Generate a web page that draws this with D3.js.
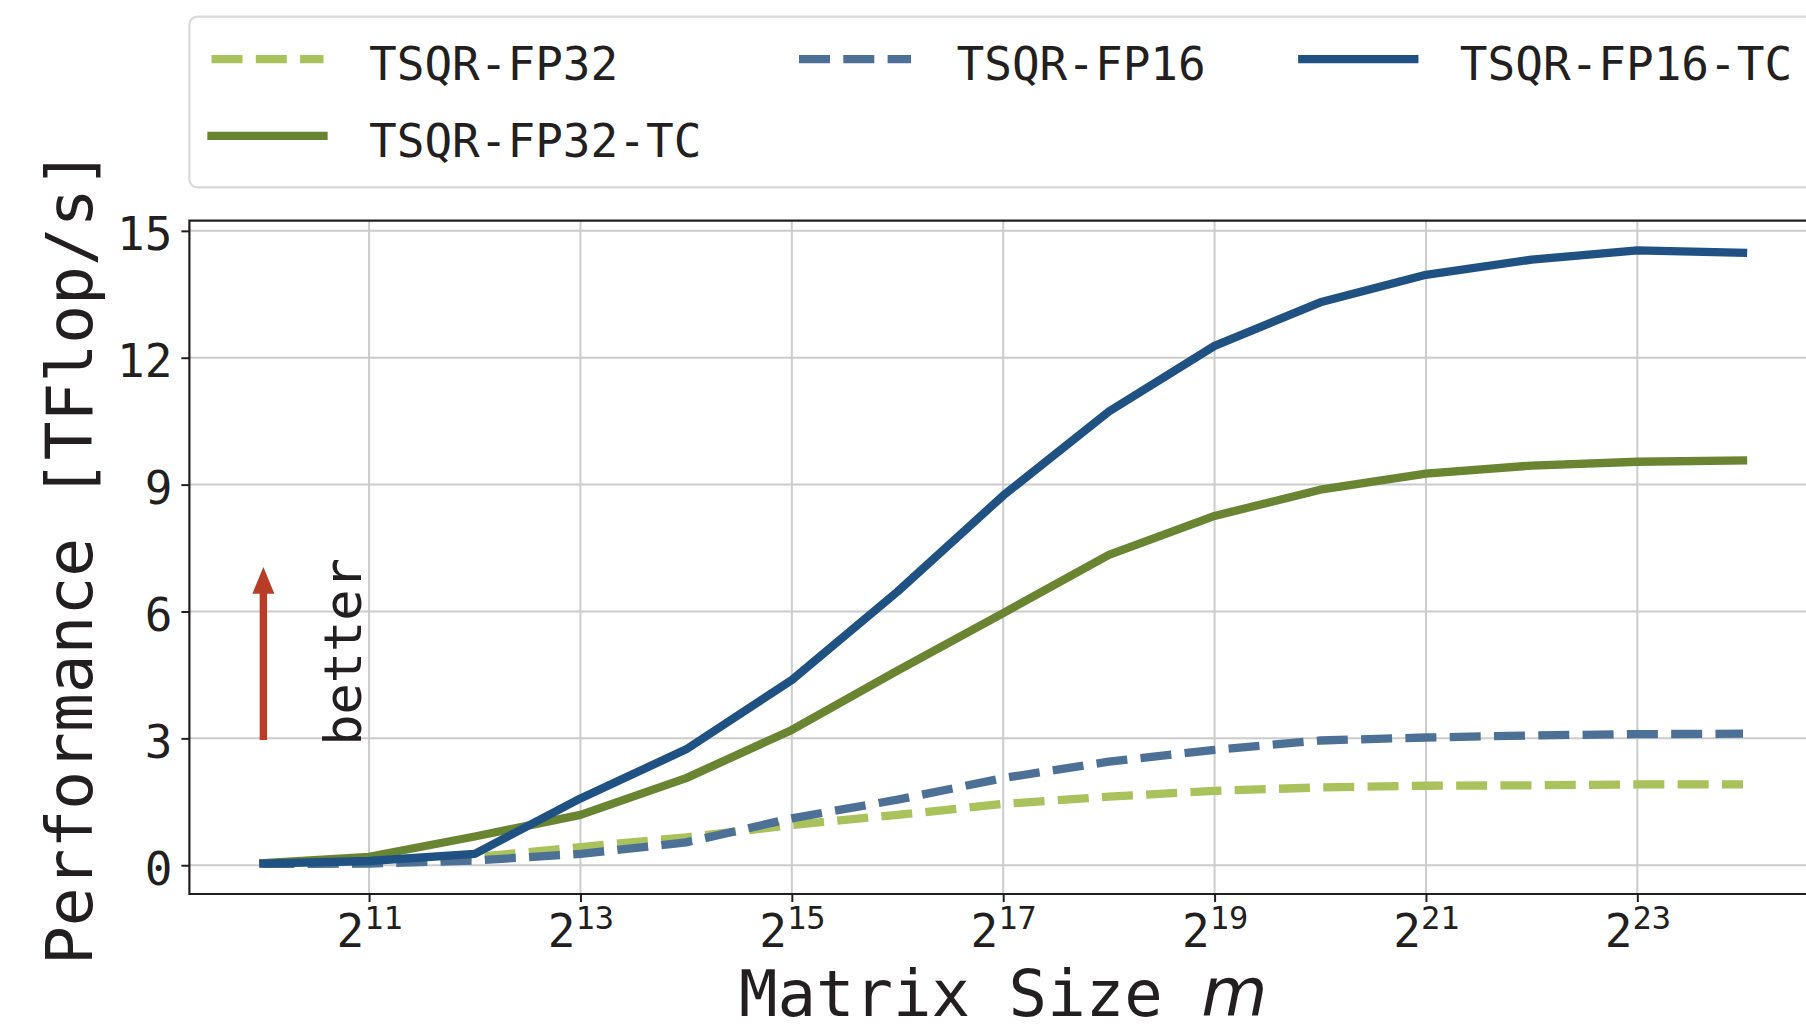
<!DOCTYPE html>
<html>
<head>
<meta charset="utf-8">
<script src="https://cdn.jsdelivr.net/npm/d3@7"></script>
<style>
  html, body { margin: 0; padding: 0; background: #fff; }
  svg { display: block; }
  text { font-family: "DejaVu Sans Mono", monospace; fill: #231f20; }
</style>
</head>
<body>
<div class="chart"></div>
<script>
'use strict'

// matrix size m = 2^e
const exponents = [10, 11, 12, 13, 14, 15, 16, 17, 18, 19, 20, 21, 22, 23, 24]
const tickExponents = [11, 13, 15, 17, 19, 21, 23]
const yTicks = [0, 3, 6, 9, 12, 15]

// TFlop/s
const fp32 = [0.03, 0.05, 0.19, 0.43, 0.66, 0.95, 1.19, 1.45, 1.62, 1.76, 1.84, 1.88, 1.89, 1.91, 1.91]
const fp32tc = [0.05, 0.20, 0.68, 1.19, 2.06, 3.20, 4.60, 5.96, 7.34, 8.26, 8.88, 9.26, 9.45, 9.54, 9.57]
const fp16 = [0.03, 0.04, 0.11, 0.27, 0.54, 1.11, 1.55, 2.06, 2.45, 2.73, 2.95, 3.02, 3.07, 3.10, 3.11]
const fp16tc = [0.04, 0.10, 0.27, 1.58, 2.74, 4.38, 6.47, 8.74, 10.73, 12.28, 13.31, 13.96, 14.32, 14.54, 14.48]

const seriesNames = ['TSQR-FP32', 'TSQR-FP32-TC', 'TSQR-FP16', 'TSQR-FP16-TC']
const seriesValues = [fp32, fp32tc, fp16, fp16tc]
const seriesColors = ['#a9c25b', '#6a8532', '#4c7096', '#1f5282']
const seriesDashed = [true, false, true, false]

// "better" arrow, in TFlop/s
const arrowFrom = 3
const arrowTo = 7.05

const width = 1806
const height = 1033
const ax = { left: 189.4, right: 1817, top: 220.7, bottom: 894 }
const lw = 8.3
const dash = '31,13.3'

const x = d3.scaleLog().base(2)
    .domain([Math.pow(2, 9.3), Math.pow(2, 24.7)])
    .range([ax.left, ax.right])
const y = d3.scaleLinear()
    .domain([-0.68, 15.24])
    .range([ax.bottom, ax.top])

const svg = d3.select('.chart').append('svg')
    .attr('width', width)
    .attr('height', height)

// grid
svg.append('g').selectAll('line')
    .data(yTicks)
  .enter().append('line')
    .attr('x1', ax.left).attr('x2', ax.right)
    .attr('y1', d => y(d)).attr('y2', d => y(d))
    .attr('stroke', '#cccccc').attr('stroke-width', 2)
svg.append('g').selectAll('line')
    .data(tickExponents)
  .enter().append('line')
    .attr('x1', d => x(Math.pow(2, d))).attr('x2', d => x(Math.pow(2, d)))
    .attr('y1', ax.top).attr('y2', ax.bottom)
    .attr('stroke', '#cccccc').attr('stroke-width', 2)

// axes
const yAxis = d3.axisLeft(y).tickValues(yTicks).tickSize(8).tickPadding(9)
const yg = svg.append('g')
    .attr('transform', 'translate(' + ax.left + ',0)')
    .call(yAxis)
yg.select('.domain').remove()
yg.selectAll('.tick line').attr('stroke', '#231f20').attr('stroke-width', 2)
yg.selectAll('.tick text')
    .attr('dy', null)
    .attr('y', 18.8)
    .style('font-size', '46px')
    .style('font-family', '"DejaVu Sans Mono", monospace')
    .attr('fill', '#231f20')

const xAxis = d3.axisBottom(x)
    .tickValues(tickExponents.map(e => Math.pow(2, e)))
    .tickSize(8)
    .tickFormat('')
const xg = svg.append('g')
    .attr('transform', 'translate(0,' + ax.bottom + ')')
    .call(xAxis)
xg.select('.domain').remove()
xg.selectAll('.tick line').attr('stroke', '#231f20').attr('stroke-width', 2)
xg.selectAll('.tick').each(function(d) {
  const t = d3.select(this).append('text')
      .attr('y', 52.7)
      .attr('text-anchor', 'middle')
      .style('font-size', '46px')
      .style('font-family', '"DejaVu Sans Mono", monospace')
      .attr('fill', '#231f20')
  t.append('tspan').text('2')
  t.append('tspan')
      .attr('dy', -17.4)
      .style('font-size', '32px')
      .text(Math.round(Math.log2(d)))
})

// spines
svg.append('path')
    .attr('d', 'M' + ax.right + ',' + ax.top + 'H' + ax.left + 'V' + ax.bottom + 'H' + ax.right)
    .attr('fill', 'none')
    .attr('stroke', '#231f20')
    .attr('stroke-width', 2.2)

// series lines
const line = d3.line()
    .x((d, i) => x(Math.pow(2, exponents[i])))
    .y(d => y(d))

svg.append('g').selectAll('path')
    .data(seriesValues)
  .enter().append('path')
    .attr('d', line)
    .attr('fill', 'none')
    .attr('stroke', (d, i) => seriesColors[i])
    .attr('stroke-width', lw)
    .attr('stroke-linejoin', 'round')
    .attr('stroke-linecap', (d, i) => seriesDashed[i] ? 'butt' : 'square')
    .attr('stroke-dasharray', (d, i) => seriesDashed[i] ? dash : null)

// better arrow
const arrowX = x(Math.pow(2, exponents[0]))
const tipY = y(arrowTo)
const headLen = 26.7
svg.append('path')
    .attr('d', 'M' + (arrowX - 3.7) + ',' + (y(arrowFrom) + 1.7)
        + 'V' + (tipY + headLen) + 'H' + (arrowX - 11) + 'L' + arrowX + ',' + tipY
        + 'L' + (arrowX + 11) + ',' + (tipY + headLen) + 'H' + (arrowX + 3.7)
        + 'V' + (y(arrowFrom) + 1.7) + 'Z')
    .attr('fill', '#b83c26')

svg.append('text')
    .attr('transform', 'translate(' + (arrowX + 98) + ',' + (y(arrowFrom) + 7.5) + ') rotate(-90)')
    .style('font-size', '52px')
    .text('better')

// axis labels
svg.append('text')
    .attr('transform', 'translate(92,' + ((ax.top + ax.bottom) / 2) + ') rotate(-90)')
    .attr('text-anchor', 'middle')
    .style('font-size', '64.5px')
    .text('Performance [TFlop/s]')

const xl = svg.append('text')
    .attr('x', (ax.left + ax.right) / 2)
    .attr('y', 1015.5)
    .attr('text-anchor', 'middle')
    .style('font-size', '64px')
xl.append('tspan').text('Matrix Size ')
xl.append('tspan')
    .style('font-family', '"DejaVu Sans", sans-serif')
    .style('font-style', 'italic')
    .style('font-size', '68px')
    .text('m')

// legend
svg.append('rect')
    .attr('x', ax.left).attr('y', 16.7)
    .attr('width', ax.right - ax.left).attr('height', 170.6)
    .attr('rx', 8)
    .attr('fill', '#fff')
    .attr('stroke', '#d9d9d9')
    .attr('stroke-width', 2.2)

const legendColX = [211.5, 799, 1302.3]
const legendRowY = [59.2, 135.8]
const legendCol = [0, 0, 1, 2]
const legendRow = [0, 1, 0, 0]

const item = svg.append('g').selectAll('g')
    .data(seriesNames)
  .enter().append('g')
    .attr('transform', (d, i) => 'translate(' + legendColX[legendCol[i]] + ',' + legendRowY[legendRow[i]] + ')')

item.append('line')
    .attr('x1', 0).attr('x2', 112)
    .attr('stroke', (d, i) => seriesColors[i])
    .attr('stroke-width', lw)
    .attr('stroke-linecap', (d, i) => seriesDashed[i] ? 'butt' : 'square')
    .attr('stroke-dasharray', (d, i) => seriesDashed[i] ? dash : null)

item.append('text')
    .attr('x', 157.5)
    .attr('y', 20.8)
    .style('font-size', '46px')
    .text(d => d)
</script>
</body>
</html>
